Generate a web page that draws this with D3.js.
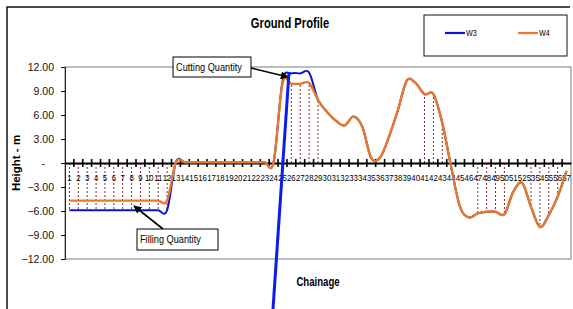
<!DOCTYPE html>
<html>
<head>
<meta charset="utf-8">
<script src="https://cdn.jsdelivr.net/npm/d3@7"></script>
<style>
  body { margin: 0; background: #fff; }
  svg text { font-family: 'Liberation Sans', Arial, sans-serif; }
</style>
</head>
<body>
<div id="chart"></div>
<script>
// stations along the road
const chainage = [1, 2, 3, 4, 5, 6, 7, 8, 9, 10, 11, 12, 13, 14, 15, 16, 17, 18, 19, 20,
    21, 22, 23, 24, 25, 26, 27, 28, 29, 30, 31, 32, 33, 34, 35, 36, 37, 38, 39, 40,
    41, 42, 43, 44, 45, 46, 47, 48, 49, 50, 51, 52, 53, 54, 55, 56, 57];

// height (m) per station
const w3 = [-5.9, -5.9, -5.9, -5.9, -5.9, -5.9, -5.9, -5.9, -5.9, -5.9, -5.9, -5.9,
    0.1, 0.1, 0.1, 0.1, 0.1, 0.1, 0.1, 0.1, 0.1, 0.1, 0.1, 0.1,
    10.2, 11.2, 11.2, 11.3,
    7.9, 6.4, 5.3, 4.7, 5.8, 4.5, 0.6, 0.7, 3.3, 6.6,
    10.3, 10.0, 8.6, 8.6, 5.0, -0.5, -5.5, -6.8,
    -6.3, -6.1, -6.1, -6.4, -3.6, -2.5, -5.5, -8.0, -6.5, -4.2, -1.0];

const w4 = [-4.7, -4.7, -4.7, -4.7, -4.7, -4.7, -4.7, -4.7, -4.7, -4.7, -4.7, -4.7,
    0.1, 0.1, 0.1, 0.1, 0.1, 0.1, 0.1, 0.1, 0.1, 0.1, 0.1, 0.1,
    9.9, 9.9, 9.9, 10.0,
    7.9, 6.4, 5.3, 4.7, 5.8, 4.5, 0.6, 0.7, 3.3, 6.6,
    10.3, 10.0, 8.6, 8.6, 5.0, -0.5, -5.5, -6.8,
    -6.3, -6.1, -6.1, -6.4, -3.6, -2.5, -5.5, -8.0, -6.5, -4.2, -1.0];

const yTicks = [-12, -9, -6, -3, 0, 3, 6, 9, 12];

// stations with a dashed cut / fill marker
const markedStations = [1, 2, 3, 4, 5, 6, 7, 8, 9, 10, 11, 12, 26, 27, 28, 29,
    41, 42, 43, 47, 48, 49, 50, 53, 54, 55, 56];

const seriesNames = ["W3", "W4"];
const seriesColors = ["#0b14cc", "#e9792a"];

// narrow look of the original font
const narrow = 0.8;

class ProfileChart {
    constructor(_config) {
        this.config = {
            parentElement: _config.parentElement,
            containerWidth: _config.containerWidth || 573,
            containerHeight: _config.containerHeight || 309,
            margin: _config.margin || {top: 67, right: 2, bottom: 50, left: 65},
            title: _config.title,
            xLabel: _config.xLabel,
            yLabel: _config.yLabel
        }
        this.initVis();
    }

    initVis() {
        let vis = this;
        let m = vis.config.margin;

        vis.width = vis.config.containerWidth - m.left - m.right;
        vis.height = vis.config.containerHeight - m.top - m.bottom;

        vis.root = d3.select(vis.config.parentElement)
            .append("svg")
            .attr("width", vis.config.containerWidth)
            .attr("height", vis.config.containerHeight);

        // chart area frame (left + top only, the rest is cut off)
        vis.root.append("path")
            .attr("d", "M7," + vis.config.containerHeight + "V7H570")
            .attr("fill", "none")
            .attr("stroke", "#111")
            .attr("stroke-width", 1.5);

        vis.svg = vis.root.append("g")
            .attr("transform", "translate(" + m.left + "," + m.top + ")");

        vis.xScale = d3.scaleBand()
            .domain(chainage)
            .range([0, vis.width])
            .padding(0);

        vis.yScale = d3.scaleLinear()
            .domain([-12, 12])
            .range([vis.height, 0]);

        // plot area border
        vis.svg.append("rect")
            .attr("width", vis.width)
            .attr("height", vis.height)
            .attr("fill", "none")
            .attr("stroke", "#7a7a7a");

        vis.yAxis = d3.axisLeft(vis.yScale)
            .tickValues(yTicks)
            .tickSizeInner(4)
            .tickSizeOuter(0)
            .tickPadding(7)
            .tickFormat(d => d === 0 ? "-" : d3.format(".2f")(d));

        vis.yAxisG = vis.svg.append("g")
            .attr("class", "yAxis")
            .call(vis.yAxis);
        vis.yAxisG.select(".domain").attr("stroke", "#222");
        vis.yAxisG.selectAll("text")
            .attr("font-size", 10.5)
            .attr("fill", "#111")
            .attr("dx", d => d === 0 ? -9 : 0);

        let zeroY = vis.yScale(0);

        // dashed cut / fill markers
        let idx = c => chainage.indexOf(c);
        vis.svg.selectAll(".marker")
            .data(markedStations)
            .enter()
          .append("line")
            .attr("class", "marker")
            .attr("x1", d => vis.xScale(d) + vis.xScale.bandwidth() / 2)
            .attr("x2", d => vis.xScale(d) + vis.xScale.bandwidth() / 2)
            .attr("y1", zeroY)
            .attr("y2", d => vis.yScale(Math.min(w3[idx(d)], w4[idx(d)])))
            .attr("stroke", "#8a2a33")
            .attr("stroke-width", 1)
            .attr("stroke-dasharray", "2,2");

        // x axis along zero
        vis.xAxis = d3.axisBottom(vis.xScale)
            .tickSize(0)
            .tickPadding(11);
        vis.xAxisG = vis.svg.append("g")
            .attr("class", "xAxis")
            .attr("transform", "translate(0," + zeroY + ")")
            .call(vis.xAxis);
        vis.xAxisG.select(".domain")
            .attr("stroke", "#000")
            .attr("stroke-width", 2.2);
        vis.xAxisG.selectAll("text")
            .attr("font-size", 9.8)
            .attr("fill", "#000")
            .attr("transform", "scale(" + narrow + ",1)");

        // crossing tick marks on band edges
        vis.svg.selectAll(".xTick")
            .data(chainage.slice(1))
            .enter()
          .append("line")
            .attr("class", "xTick")
            .attr("x1", d => vis.xScale(d))
            .attr("x2", d => vis.xScale(d))
            .attr("y1", zeroY - 4)
            .attr("y2", zeroY + 4)
            .attr("stroke", "#000")
            .attr("stroke-width", 1.6);

        // series lines, smoothed like the spreadsheet
        vis.line = d3.line()
            .x((d, i) => vis.xScale(chainage[i]) + vis.xScale.bandwidth() / 2)
            .y(d => vis.yScale(d))
            .curve(d3.curveCardinal.tension(0));

        [w3, w4].forEach((s, i) => {
            vis.svg.append("path")
                .datum(s)
                .attr("class", "series " + seriesNames[i])
                .attr("fill", "none")
                .attr("stroke", seriesColors[i])
                .attr("stroke-width", i === 0 ? 2 : 2.4)
                .attr("d", vis.line);
        });

        vis.initLabels();
        vis.initLegend();
        vis.initCallouts();
    }

    initLabels() {
        let vis = this;

        vis.root.append("text")
            .attr("transform", "translate(290,28)scale(" + narrow + ",1)")
            .attr("text-anchor", "middle")
            .attr("font-size", 14)
            .attr("font-weight", "bold")
            .text(vis.config.title);

        vis.root.append("text")
            .attr("transform", "translate(20,163)rotate(-90)")
            .attr("text-anchor", "middle")
            .attr("font-size", 11.5)
            .attr("font-weight", "bold")
            .text(vis.config.yLabel);

        vis.root.append("text")
            .attr("transform", "translate(318,286)scale(" + narrow + ",1)")
            .attr("text-anchor", "middle")
            .attr("font-size", 12)
            .attr("font-weight", "bold")
            .text(vis.config.xLabel);
    }

    initLegend() {
        let vis = this;
        let lg = vis.root.append("g")
            .attr("transform", "translate(424,15)");

        lg.append("rect")
            .attr("width", 143)
            .attr("height", 41)
            .attr("fill", "#fff")
            .attr("stroke", "#111");

        let items = lg.selectAll(".lgItem")
            .data(seriesNames)
            .enter()
          .append("g")
            .attr("class", "lgItem")
            .attr("transform", (d, i) => "translate(" + (21 + i * 73) + ",18)");

        items.append("line")
            .attr("x2", 20)
            .attr("stroke", (d, i) => seriesColors[i])
            .attr("stroke-width", 2.2);

        items.append("text")
            .attr("transform", "translate(21,3)scale(" + narrow + ",1)")
            .attr("font-size", 9)
            .text(d => d);
    }

    initCallouts() {
        let vis = this;

        vis.root.append("defs").append("marker")
            .attr("id", "arrowHead")
            .attr("viewBox", "0 0 10 10")
            .attr("refX", 9)
            .attr("refY", 5)
            .attr("markerWidth", 5)
            .attr("markerHeight", 5)
            .attr("orient", "auto")
          .append("path")
            .attr("d", "M0,0L10,5L0,10z")
            .attr("fill", "#000");

        const callouts = [
            {text: "Cutting Quantity", box: [173, 57, 78, 20], from: [251, 68], to: [288, 77]},
            {text: "Filling Quantity", box: [137, 229, 81, 21], from: [163, 229], to: [134, 206]}
        ];

        callouts.forEach(c => {
            vis.root.append("line")
                .attr("x1", c.from[0]).attr("y1", c.from[1])
                .attr("x2", c.to[0]).attr("y2", c.to[1])
                .attr("stroke", "#000")
                .attr("stroke-width", 1.6)
                .attr("marker-end", "url(#arrowHead)");
            vis.root.append("rect")
                .attr("x", c.box[0]).attr("y", c.box[1])
                .attr("width", c.box[2]).attr("height", c.box[3])
                .attr("fill", "#fff")
                .attr("stroke", "#000");
            vis.root.append("text")
                .attr("transform", "translate(" + (c.box[0] + 3) + "," + (c.box[1] + 14) + ")scale(" + narrow + ",1)")
                .attr("font-size", 11.5)
                .text(c.text);
        });

        // stray drawn line crossing the chart
        vis.root.append("line")
            .attr("x1", 289).attr("y1", 72)
            .attr("x2", 273).attr("y2", 309)
            .attr("stroke", "#0a1cf0")
            .attr("stroke-width", 3);
    }
}

let profile = new ProfileChart({
    parentElement: "#chart",
    title: "Ground Profile",
    xLabel: "Chainage",
    yLabel: "Height - m"
});
</script>
</body>
</html>
